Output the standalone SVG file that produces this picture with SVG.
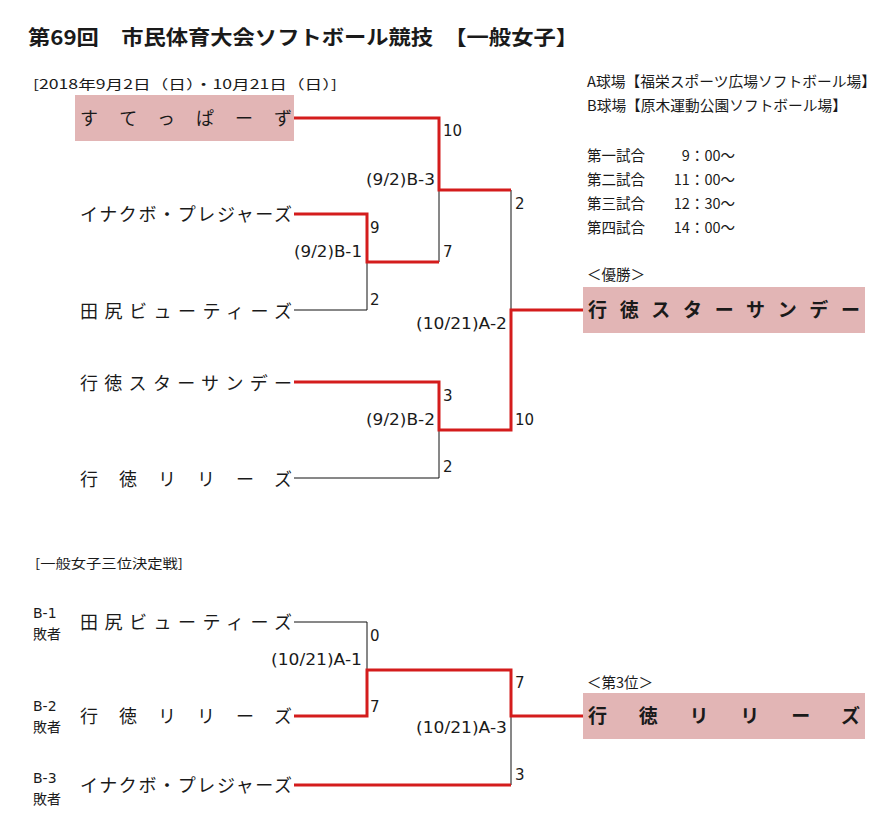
<svg xmlns="http://www.w3.org/2000/svg" width="884" height="823" viewBox="0 0 884 823">
<style>
text{font-family:"Noto Sans CJK JP","Noto Sans",sans-serif;fill:#1a1a1a}
.title{font-size:20px;font-weight:bold}
.sm{font-size:13px}
.inf{font-size:14.5px}
.name{font-size:18px}
.win{font-size:19px;font-weight:bold}
.sc{font-family:"DejaVu Sans","Noto Sans CJK JP",sans-serif;font-size:15px}
.lb{font-family:"DejaVu Sans","Noto Sans CJK JP",sans-serif;font-size:15px;text-anchor:end}
.ls{font-family:"DejaVu Sans","Noto Sans CJK JP",sans-serif;font-size:14px}
.lose{font-size:14px}
.box{fill:#e2b5b5}
.red{stroke:#d41c1c;stroke-width:3;fill:none}
.blk{stroke:#111;stroke-width:1;fill:none}
</style>
<rect width="884" height="823" fill="#fff"/>
<text class="title" x="28" y="45" textLength="550" lengthAdjust="spacingAndGlyphs">第69回　市民体育大会ソフトボール競技　【一般女子】</text>
<text class="sm" x="33" y="89" textLength="304" lengthAdjust="spacingAndGlyphs">[2018年9月2日（日）・10月21日（日）]</text>
<g id="info">
<text class="inf" x="587" y="87" textLength="289" lengthAdjust="spacingAndGlyphs">A球場【福栄スポーツ広場ソフトボール場】</text>
<text class="inf" x="587" y="111" textLength="260" lengthAdjust="spacingAndGlyphs">B球場【原木運動公園ソフトボール場】</text>
<text class="inf" x="587" y="161">第一試合</text><text class="inf" x="735" y="161" text-anchor="end">9：00～</text>
<text class="inf" x="587" y="185">第二試合</text><text class="inf" x="735" y="185" text-anchor="end">11：00～</text>
<text class="inf" x="587" y="209">第三試合</text><text class="inf" x="735" y="209" text-anchor="end">12：30～</text>
<text class="inf" x="587" y="233">第四試合</text><text class="inf" x="735" y="233" text-anchor="end">14：00～</text>
</g>
<g id="connectors">
<polyline class="blk" points="439,190 439,262"/>
<polyline class="blk" points="294,310 367,310 367,262"/>
<polyline class="blk" points="511,190 511,310"/>
<polyline class="blk" points="294,478 439,478 439,430"/>
<polyline class="red" points="294,118 439,118 439,190 511,190"/>
<polyline class="red" points="294,214 367,214 367,262 439,262"/>
<polyline class="red" points="294,382 439,382 439,430 511,430 511,310 583,310"/>
<polyline class="blk" points="294,622 367,622 367,670"/>
<polyline class="blk" points="511,716 511,785"/>
<polyline class="red" points="294,716 367,716 367,670 511,670 511,716 583,716"/>
<polyline class="red" points="294,785 511,785"/>
</g>
<g id="team-sutteppazu">
<rect class="box" x="75" y="95" width="219" height="46"/>
<text class="name" x="80" y="125" textLength="212" lengthAdjust="spacing">すてっぱーず</text>
</g>
<g id="team-inakubo"><text class="name" x="80" y="221" textLength="212" lengthAdjust="spacing">イナクボ・プレジャーズ</text></g>
<g id="team-tajiri"><text class="name" x="80" y="318" textLength="212" lengthAdjust="spacing">田尻ビューティーズ</text></g>
<g id="team-gyotoku-star"><text class="name" x="80" y="390" textLength="212" lengthAdjust="spacing">行徳スターサンデー</text></g>
<g id="team-gyotoku-lilies"><text class="name" x="80" y="486" textLength="212" lengthAdjust="spacing">行徳リリーズ</text></g>
<g id="scores-top">
<text class="sc" x="443" y="136">10</text>
<text class="sc" x="370" y="233">9</text>
<text class="sc" x="370" y="305">2</text>
<text class="sc" x="443" y="257">7</text>
<text class="sc" x="515" y="209">2</text>
<text class="sc" x="443" y="401">3</text>
<text class="sc" x="443" y="472">2</text>
<text class="sc" x="515" y="425">10</text>
<text class="lb" x="435" y="185" textLength="69" lengthAdjust="spacingAndGlyphs">(9/2)B-3</text>
<text class="lb" x="362" y="257" textLength="68" lengthAdjust="spacingAndGlyphs">(9/2)B-1</text>
<text class="lb" x="507" y="329" textLength="91" lengthAdjust="spacingAndGlyphs">(10/21)A-2</text>
<text class="lb" x="435" y="425" textLength="69" lengthAdjust="spacingAndGlyphs">(9/2)B-2</text>
</g>
<g id="champion">
<text class="inf" x="587" y="280">＜優勝＞</text>
<rect class="box" x="583" y="287" width="282" height="46"/>
<text class="win" x="588" y="317" textLength="272" lengthAdjust="spacing">行徳スターサンデー</text>
</g>
<text class="sm" x="35" y="568" textLength="148" lengthAdjust="spacingAndGlyphs">[一般女子三位決定戦]</text>
<g id="third-b1">
<text class="ls" x="33" y="618">B-1</text><text class="lose" x="33" y="639">敗者</text>
<text class="name" x="80" y="629" textLength="212" lengthAdjust="spacing">田尻ビューティーズ</text>
</g>
<g id="third-b2">
<text class="ls" x="33" y="711">B-2</text><text class="lose" x="33" y="732">敗者</text>
<text class="name" x="80" y="723" textLength="212" lengthAdjust="spacing">行徳リリーズ</text>
</g>
<g id="third-b3">
<text class="ls" x="33" y="783">B-3</text><text class="lose" x="33" y="804">敗者</text>
<text class="name" x="80" y="792" textLength="212" lengthAdjust="spacing">イナクボ・プレジャーズ</text>
</g>
<g id="scores-bottom">
<text class="sc" x="370" y="641">0</text>
<text class="lb" x="362" y="665" textLength="91" lengthAdjust="spacingAndGlyphs">(10/21)A-1</text>
<text class="sc" x="370" y="712">7</text>
<text class="sc" x="515" y="688">7</text>
<text class="lb" x="507" y="733" textLength="91" lengthAdjust="spacingAndGlyphs">(10/21)A-3</text>
<text class="sc" x="515" y="780">3</text>
</g>
<g id="third-place">
<text class="inf" x="587" y="688">＜第3位＞</text>
<rect class="box" x="583" y="693" width="282" height="46"/>
<text class="win" x="588" y="723" textLength="272" lengthAdjust="spacing">行徳リリーズ</text>
</g>
</svg>
